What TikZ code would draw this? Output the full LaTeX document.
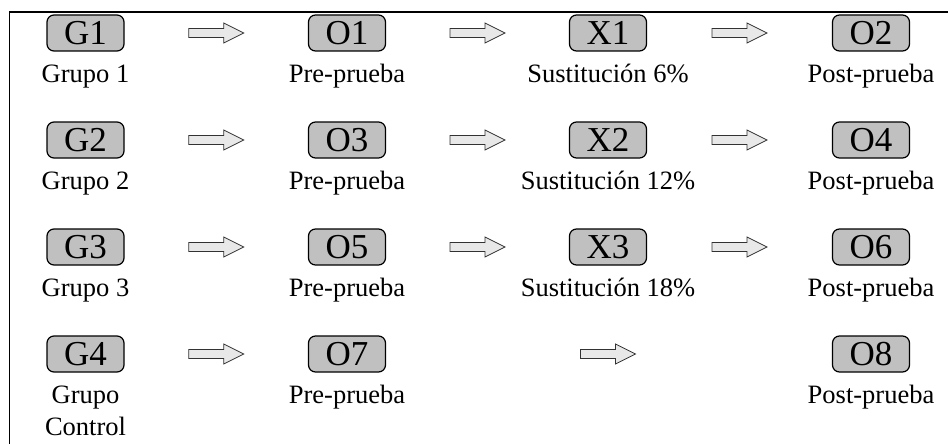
\documentclass[tikz,border=0pt]{standalone}
\usepackage{fontspec}
\setmainfont{Liberation Serif}
\usetikzlibrary{calc}
\definecolor{boxfill}{RGB}{192,192,192}
\definecolor{arrfill}{RGB}{232,232,232}
\definecolor{arrdraw}{RGB}{50,50,50}
\begin{document}
\begin{tikzpicture}[x=1pt,y=-1pt,
  gbox/.style={draw=black,line width=1.2pt,fill=boxfill,rounded corners=7pt,
    minimum width=77pt,minimum height=36pt,inner sep=0pt,
    font=\fontsize{35}{38}\selectfont},
  lbl/.style={anchor=base,inner sep=0pt,font=\fontsize{26.5}{30}\selectfont},
  blockarrow/.pic={\draw[fill=arrfill,draw=arrdraw,line width=0.8pt]
    (-27.5,-4.5) -- (7.5,-4.5) -- (7.5,-10) -- (27.5,0) -- (7.5,10) -- (7.5,4.5) -- (-27.5,4.5) -- cycle;}
]
\useasboundingbox (0,0) rectangle (948,444);
\draw[line width=1.5pt] (948,12) -- (9.5,12) -- (9.5,444);

% row 1
\node[gbox] (g1) at (85.5,33) {G1};
\node[gbox] (o1) at (347,33) {O1};
\node[gbox] (x1) at (608,33) {X1};
\node[gbox] (o2) at (871,33) {O2};
\node[lbl] (lg1) at (85.5,82) {Grupo 1};
\node[lbl] (lo1) at (347,82) {Pre-prueba};
\node[lbl] (lx1) at (608,82) {Sustitución 6\%};
\node[lbl] (lo2) at (871,82) {Post-prueba};
\pic at ($(g1)!0.5!(o1)$) {blockarrow};
\pic at ($(o1)!0.5!(x1)$) {blockarrow};
\pic at ($(x1)!0.5!(o2)$) {blockarrow};

% row 2
\node[gbox] (g2) at (85.5,140) {G2};
\node[gbox] (o3) at (347,140) {O3};
\node[gbox] (x2) at (608,140) {X2};
\node[gbox] (o4) at (871,140) {O4};
\node[lbl] (lg2) at (85.5,189) {Grupo 2};
\node[lbl] (lo3) at (347,189) {Pre-prueba};
\node[lbl] (lx2) at (608,189) {Sustitución 12\%};
\node[lbl] (lo4) at (871,189) {Post-prueba};
\pic at ($(g2)!0.5!(o3)$) {blockarrow};
\pic at ($(o3)!0.5!(x2)$) {blockarrow};
\pic at ($(x2)!0.5!(o4)$) {blockarrow};

% row 3
\node[gbox] (g3) at (85.5,247) {G3};
\node[gbox] (o5) at (347,247) {O5};
\node[gbox] (x3) at (608,247) {X3};
\node[gbox] (o6) at (871,247) {O6};
\node[lbl] (lg3) at (85.5,296) {Grupo 3};
\node[lbl] (lo5) at (347,296) {Pre-prueba};
\node[lbl] (lx3) at (608,296) {Sustitución 18\%};
\node[lbl] (lo6) at (871,296) {Post-prueba};
\pic at ($(g3)!0.5!(o5)$) {blockarrow};
\pic at ($(o5)!0.5!(x3)$) {blockarrow};
\pic at ($(x3)!0.5!(o6)$) {blockarrow};

% row 4
\node[gbox] (g4) at (85.5,354) {G4};
\node[gbox] (o7) at (347,354) {O7};
\coordinate (x4) at (608,354);
\node[gbox] (o8) at (871,354) {O8};
\node[lbl] (lg4) at (85.5,403) {Grupo};
\node[lbl] (lg4b) at (85.5,435) {Control};
\node[lbl] (lo7) at (347,403) {Pre-prueba};
\node[lbl] (lo8) at (871,403) {Post-prueba};
\pic at ($(g4)!0.5!(o7)$) {blockarrow};
\pic at (x4) {blockarrow};
\end{tikzpicture}
\end{document}
